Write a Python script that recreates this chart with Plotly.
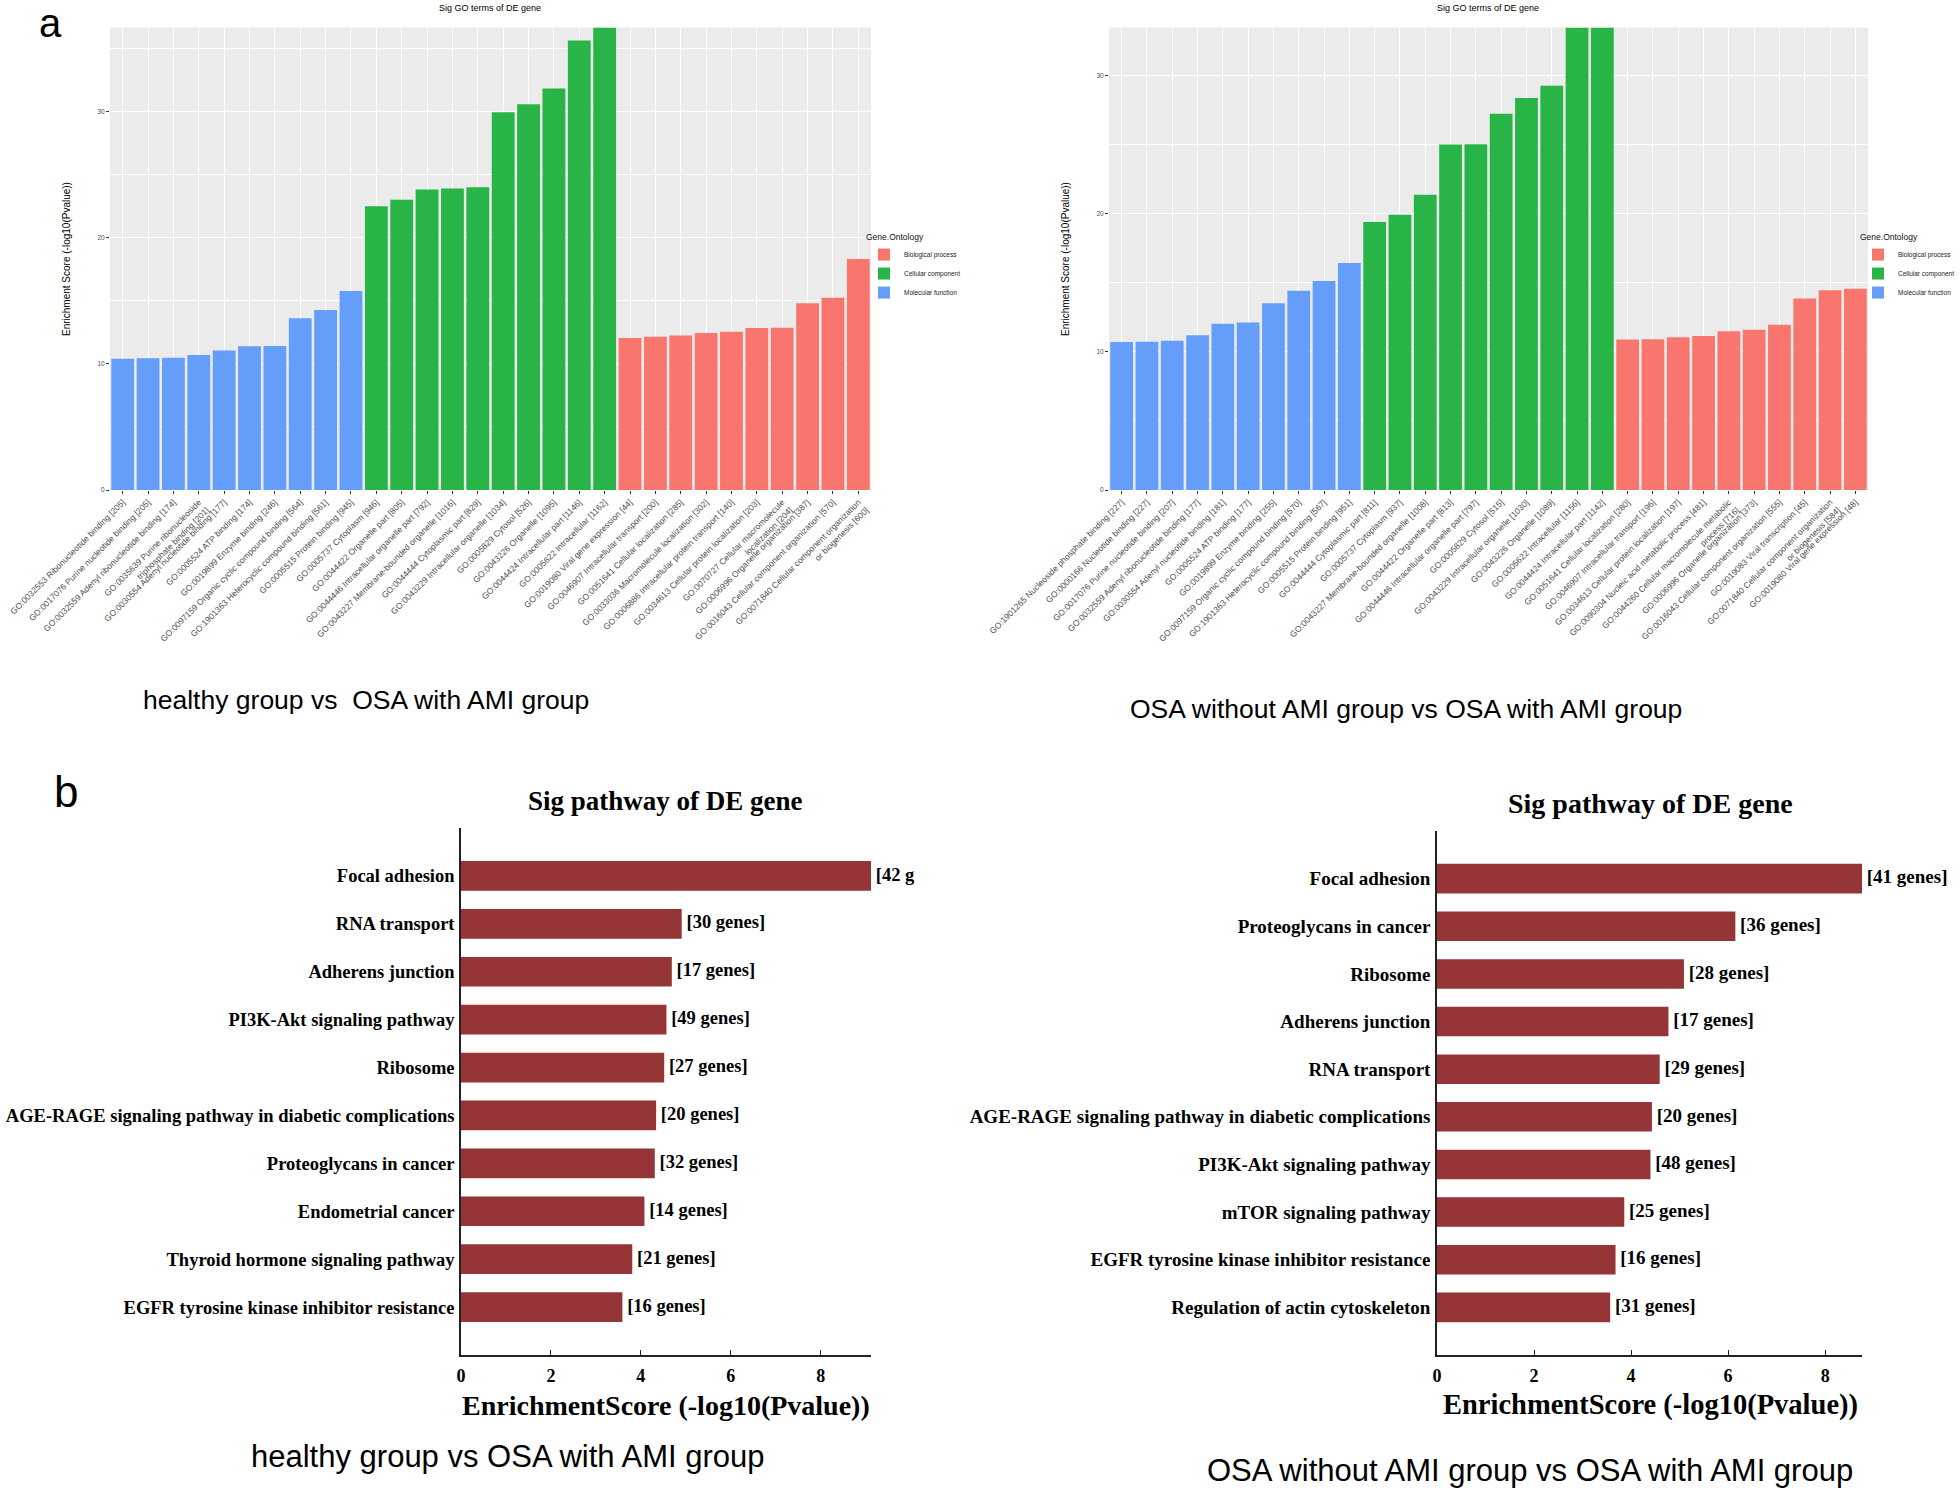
import plotly.graph_objects as go

# ---------------- Panel a, left: healthy vs OSA with AMI ----------------
goL_mf_terms = [
    "GO:0032553 Ribonucleotide binding [205]",
    "GO:0017076 Purine nucleotide binding [205]",
    "GO:0032559 Adenyl ribonucleotide binding [174]",
    "GO:0035639 Purine ribonucleoside<br>triphosphate binding [201]",
    "GO:0030554 Adenyl nucleotide binding [177]",
    "GO:0005524 ATP binding [174]",
    "GO:0019899 Enzyme binding [246]",
    "GO:0097159 Organic cyclic compound binding [564]",
    "GO:1901363 Heterocyclic compound binding [561]",
    "GO:0005515 Protein binding [945]",
]
goL_mf_scores = [10.42, 10.45, 10.50, 10.71, 11.06, 11.40, 11.43, 13.62, 14.29, 15.79]

goL_cc_terms = [
    "GO:0005737 Cytoplasm [946]",
    "GO:0044422 Organelle part [805]",
    "GO:0044446 Intracellular organelle part [792]",
    "GO:0043227 Membrane-bounded organelle [1016]",
    "GO:0044444 Cytoplasmic part [829]",
    "GO:0043229 Intracellular organelle [1034]",
    "GO:0005829 Cytosol [526]",
    "GO:0043226 Organelle [1095]",
    "GO:0044424 Intracellular part [1146]",
    "GO:0005622 Intracellular [1162]",
]
goL_cc_scores = [22.51, 23.04, 23.84, 23.92, 24.02, 29.97, 30.61, 31.85, 35.66, 36.70]

goL_bp_terms = [
    "GO:0019080 Viral gene expression [44]",
    "GO:0046907 Intracellular transport [200]",
    "GO:0051641 Cellular localization [285]",
    "GO:0033036 Macromolecule localization [302]",
    "GO:0006886 Intracellular protein transport [140]",
    "GO:0034613 Cellular protein localization [203]",
    "GO:0070727 Cellular macromolecule<br>localization [204]",
    "GO:0006996 Organelle organization [387]",
    "GO:0016043 Cellular component organization [570]",
    "GO:0071840 Cellular component organization<br>or biogenesis [600]",
]
goL_bp_scores = [12.06, 12.16, 12.26, 12.46, 12.56, 12.86, 12.88, 14.82, 15.25, 18.34]

# ---------------- Panel a, right: OSA without AMI vs OSA with AMI ----------------
goR_mf_terms = [
    "GO:1901265 Nucleoside phosphate binding [227]",
    "GO:0000166 Nucleotide binding [227]",
    "GO:0017076 Purine nucleotide binding [207]",
    "GO:0032559 Adenyl ribonucleotide binding [177]",
    "GO:0030554 Adenyl nucleotide binding [181]",
    "GO:0005524 ATP binding [177]",
    "GO:0019899 Enzyme binding [255]",
    "GO:0097159 Organic cyclic compound binding [570]",
    "GO:1901363 Heterocyclic compound binding [567]",
    "GO:0005515 Protein binding [951]",
]
goR_mf_scores = [10.72, 10.74, 10.81, 11.20, 12.04, 12.14, 13.52, 14.43, 15.13, 16.44]

goR_cc_terms = [
    "GO:0044444 Cytoplasmic part [811]",
    "GO:0005737 Cytoplasm [937]",
    "GO:0043227 Membrane-bounded organelle [1008]",
    "GO:0044422 Organelle part [813]",
    "GO:0044446 Intracellular organelle part [797]",
    "GO:0005829 Cytosol [515]",
    "GO:0043229 Intracellular organelle [1030]",
    "GO:0043226 Organelle [1089]",
    "GO:0005622 Intracellular [1156]",
    "GO:0044424 Intracellular part [1142]",
]
goR_cc_scores = [19.41, 19.94, 21.39, 25.03, 25.05, 27.25, 28.39, 29.28, 33.50, 33.50]

goR_bp_terms = [
    "GO:0051641 Cellular localization [280]",
    "GO:0046907 Intracellular transport [196]",
    "GO:0034613 Cellular protein localization [197]",
    "GO:0090304 Nucleic acid metabolic process [481]",
    "GO:0044260 Cellular macromolecule metabolic<br>process [716]",
    "GO:0006996 Organelle organization [373]",
    "GO:0016043 Cellular component organization [555]",
    "GO:0019083 Viral transcription [45]",
    "GO:0071840 Cellular component organization<br>or biogenesis [584]",
    "GO:0019080 Viral gene expression [48]",
]
goR_bp_scores = [10.90, 10.92, 11.06, 11.15, 11.50, 11.60, 11.97, 13.87, 14.47, 14.57]

# ---------------- Panel b, left ----------------
keggL_terms = [
    "Focal adhesion", "RNA transport", "Adherens junction", "PI3K-Akt signaling pathway",
    "Ribosome", "AGE-RAGE signaling pathway in diabetic complications",
    "Proteoglycans in cancer", "Endometrial cancer", "Thyroid hormone signaling pathway",
    "EGFR tyrosine kinase inhibitor resistance",
]
keggL_scores = [9.12, 4.91, 4.69, 4.57, 4.52, 4.34, 4.31, 4.08, 3.81, 3.59]
keggL_labels = ["[42 g", "[30 genes]", "[17 genes]", "[49 genes]", "[27 genes]",
                "[20 genes]", "[32 genes]", "[14 genes]", "[21 genes]", "[16 genes]"]

# ---------------- Panel b, right ----------------
keggR_terms = [
    "Focal adhesion", "Proteoglycans in cancer", "Ribosome", "Adherens junction",
    "RNA transport", "AGE-RAGE signaling pathway in diabetic complications",
    "PI3K-Akt signaling pathway", "mTOR signaling pathway",
    "EGFR tyrosine kinase inhibitor resistance", "Regulation of actin cytoskeleton",
]
keggR_scores = [8.76, 6.15, 5.09, 4.77, 4.59, 4.43, 4.40, 3.86, 3.68, 3.57]
keggR_labels = ["[41 genes]", "[36 genes]", "[28 genes]", "[17 genes]", "[29 genes]",
                "[20 genes]", "[48 genes]", "[25 genes]", "[16 genes]", "[31 genes]"]

ontology_names = ["Biological process", "Cellular component", "Molecular function"]
ontology_colors = ["#F8766D", "#28B446", "#659EFA"]

W, H = 1960, 1490
def px(x):
    return x / W
def py(y):
    return 1 - y / H

SANS = "Liberation Sans"
SERIF = "Liberation Serif"
GREY30 = "#4D4D4D"

fig = go.Figure()

# GO bar charts
go_sets = [
    ("x", "y", "legend", [(goL_bp_terms, goL_bp_scores), (goL_cc_terms, goL_cc_scores), (goL_mf_terms, goL_mf_scores)],
     goL_mf_terms + goL_cc_terms + goL_bp_terms),
    ("x2", "y2", "legend2", [(goR_bp_terms, goR_bp_scores), (goR_cc_terms, goR_cc_scores), (goR_mf_terms, goR_mf_scores)],
     goR_mf_terms + goR_cc_terms + goR_bp_terms),
]
for xa, ya, lg, groups, _order in go_sets:
    for (terms, scores), name, col in zip(groups, ontology_names, ontology_colors):
        fig.add_trace(go.Bar(
            x=terms, y=scores, name=name, marker=dict(color=col, line=dict(width=0)),
            xaxis=xa, yaxis=ya, legend=lg, hoverinfo="x+y",
        ))

# KEGG bar charts
for xa, ya, terms, scores, labels, fs in [
    ("x3", "y3", keggL_terms, keggL_scores, keggL_labels, 18.5),
    ("x4", "y4", keggR_terms, keggR_scores, keggR_labels, 19),
]:
    fig.add_trace(go.Bar(
        x=scores, y=terms, orientation="h", width=0.62,
        marker=dict(color="#953537", line=dict(width=0)),
        xaxis=xa, yaxis=ya, showlegend=False,
    ))
    fig.add_trace(go.Scatter(
        x=scores, y=terms, mode="markers+text", text=labels, textposition="middle right",
        marker=dict(size=6, color="rgba(0,0,0,0)"),
        textfont=dict(family=SERIF, size=fs, color="black", weight="bold"),
        xaxis=xa, yaxis=ya, showlegend=False, cliponaxis=False, hoverinfo="skip",
    ))

go_x_common = dict(
    type="category", categoryorder="array", tickangle=-45, automargin=False,
    tickfont=dict(family=SANS, size=8.5, color=GREY30),
    showgrid=True, gridcolor="white", gridwidth=1.1,
    ticks="outside", ticklen=3, tickcolor="#333333", tickwidth=0.8,
    showline=False, zeroline=False, range=[-0.5, 29.5],
)
go_y_common = dict(
    tick0=0, dtick=10, automargin=False, tickfont=dict(family=SANS, size=6.5, color=GREY30),
    showgrid=True, gridcolor="white", gridwidth=1.1,
    minor=dict(dtick=5, tick0=0, showgrid=True, gridcolor="white", gridwidth=0.5),
    ticks="outside", ticklen=3, tickcolor="#333333", tickwidth=0.8,
    showline=False, zeroline=False,
)

dom_go_y = [py(490), py(27.5)]
fig.update_layout(
    xaxis=dict(domain=[px(110), px(871)], anchor="y", categoryarray=go_sets[0][4], **go_x_common),
    yaxis=dict(domain=dom_go_y, anchor="x", range=[0, max(goL_cc_scores)], **go_y_common),
    xaxis2=dict(domain=[px(1109), px(1868)], anchor="y2", categoryarray=go_sets[1][4], **go_x_common),
    yaxis2=dict(domain=dom_go_y, anchor="x2", range=[0, max(goR_cc_scores)], **go_y_common),
)

kx_common = dict(
    tickvals=[0, 2, 4, 6, 8], ticks="inside", ticklen=5, tickcolor="#222222", tickwidth=1.2,
    tickfont=dict(family=SERIF, size=18, color="black", weight="bold"), automargin=False,
    showline=True, linecolor="#222222", linewidth=1.5, showgrid=False, zeroline=False,
    ticklabelstandoff=4,
)
ky_common = dict(
    type="category", categoryorder="array", range=[10, -1], automargin=False,
    showline=True, linecolor="#222222", linewidth=1.5, showgrid=False, zeroline=False,
    ticks="", ticklabelstandoff=1,
)
fig.update_layout(
    xaxis3=dict(domain=[px(461), px(871)], anchor="y3", range=[0, max(keggL_scores)], **kx_common),
    yaxis3=dict(domain=[py(1355), py(828)], anchor="x3", categoryarray=keggL_terms,
                tickfont=dict(family=SERIF, size=18.5, color="black", weight="bold"), **ky_common),
    xaxis4=dict(domain=[px(1437), px(1862)], anchor="y4", range=[0, max(keggR_scores)], **kx_common),
    yaxis4=dict(domain=[py(1355), py(831)], anchor="x4", categoryarray=keggR_terms,
                tickfont=dict(family=SERIF, size=19, color="black", weight="bold"), **ky_common),
)

legend_common = dict(
    title=dict(text="Gene.Ontology", font=dict(family=SANS, size=8.5, color="#111111")),
    font=dict(family=SANS, size=6.5, color="#222222"),
    bgcolor="rgba(0,0,0,0)", xanchor="right", yanchor="top", traceorder="normal",
    tracegroupgap=0, itemclick=False, borderwidth=0,
)
fig.update_layout(
    legend=dict(x=px(966), y=py(229), **legend_common),
    legend2=dict(x=1.0, y=py(229), **legend_common),
)

# grey ggplot panels
shapes = []
for xr, yr in [("x domain", "y domain"), ("x2 domain", "y2 domain")]:
    shapes.append(dict(type="rect", xref=xr, yref=yr, x0=0, x1=1, y0=0, y1=1,
                       fillcolor="#EBEBEB", line=dict(width=0), layer="below"))

ann = []
def A(text, x, y, size, family=SANS, bold=False, angle=0, color="black", xanchor="center", yanchor="middle"):
    ann.append(dict(text=text, x=px(x), y=py(y), xref="paper", yref="paper", showarrow=False,
                    xanchor=xanchor, yanchor=yanchor, textangle=angle, borderpad=0,
                    font=dict(family=family, size=size, color=color, weight="bold" if bold else "normal")))

A("a", 50, 0, 40, yanchor="top")
A("b", 66, 791, 44)
A("Sig GO terms of DE gene", 490, 8, 9)
A("Sig GO terms of DE gene", 1488, 8, 9)
A("Enrichment Score (-log10(Pvalue))", 66, 259, 10, angle=-90)
A("Enrichment Score (-log10(Pvalue))", 1065, 259, 10, angle=-90)
A("healthy group vs  OSA with AMI group", 366, 700, 26.5)
A("OSA without AMI group vs OSA with AMI group", 1406, 709, 26.5)
A("Sig pathway of DE gene", 665, 801, 27, family=SERIF, bold=True)
A("Sig pathway of DE gene", 1650, 804, 28, family=SERIF, bold=True)
A("EnrichmentScore (-log10(Pvalue))", 666, 1405, 28, family=SERIF, bold=True)
A("EnrichmentScore (-log10(Pvalue))", 1650, 1405, 28.5, family=SERIF, bold=True)
A("healthy group vs OSA with AMI group", 508, 1456, 31)
A("OSA without AMI group vs OSA with AMI group", 1530, 1470, 31)

fig.update_layout(
    width=W, height=H, margin=dict(l=0, r=0, t=0, b=0, autoexpand=False),
    paper_bgcolor="white", plot_bgcolor="white",
    bargap=0.1, barmode="group", shapes=shapes, annotations=ann,
    font=dict(family=SANS),
)

# remove the browser's default 8px body margin so the figure fills the window
fig.write_html("out.html", config={"displayModeBar": False},
               post_script="document.body.style.margin='0';")
